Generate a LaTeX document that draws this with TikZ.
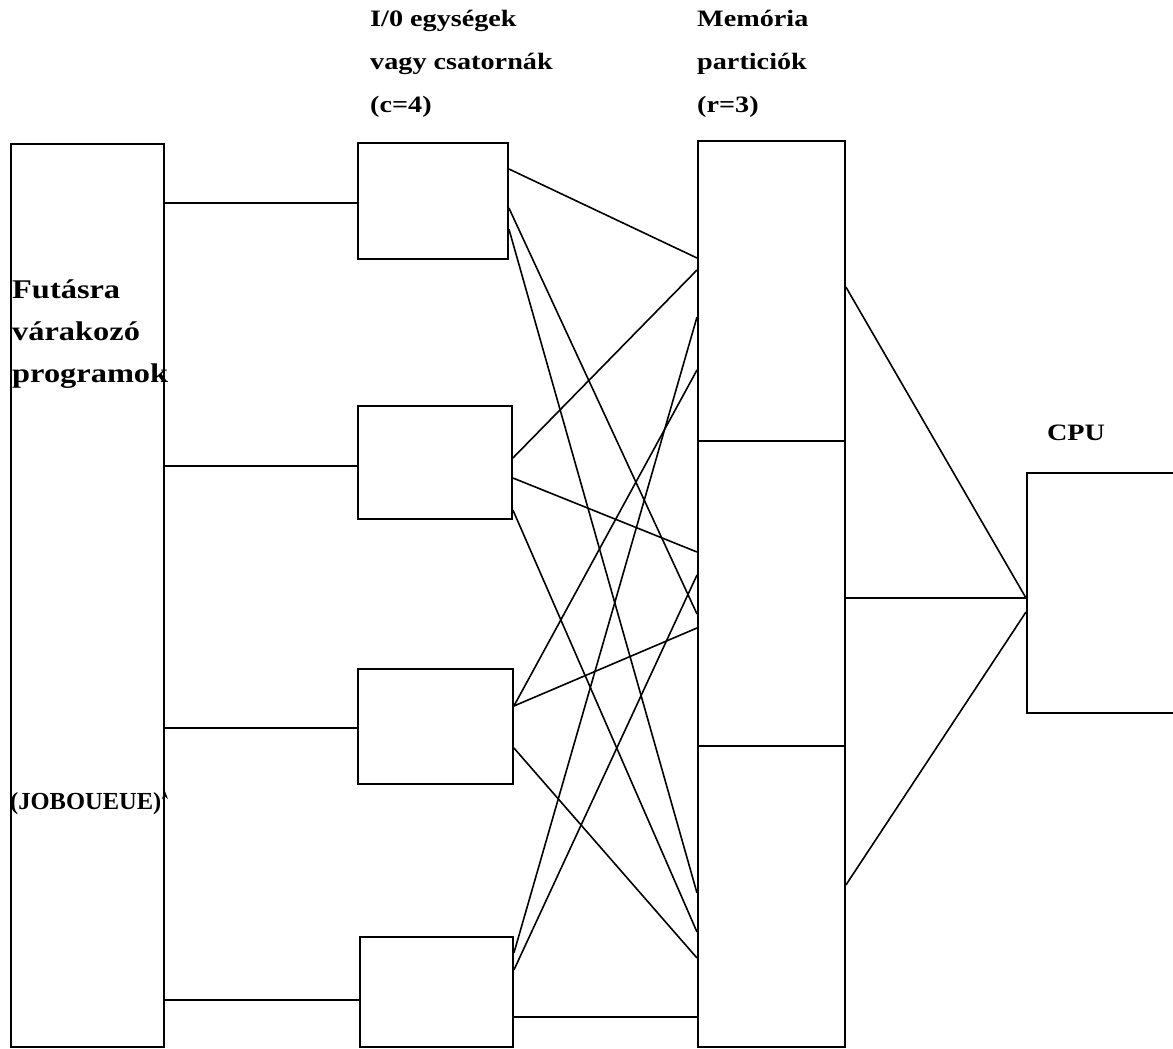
\documentclass[tikz,border=0pt]{standalone}
\usepackage{fontspec}
\usepackage{tikz}
\usetikzlibrary{arrows.meta}
\newfontfamily\labfont{Liberation Serif}[FakeStretch=1.2]
\newfontfamily\jobfont{Liberation Serif}
\tikzset{
  unit/.style={draw,rectangle,line width=1.9pt,inner sep=0pt,anchor=north west},
  link/.style={line width=1.6pt},
  lab/.style={font=\labfont\bfseries\fontsize{23.5}{43}\selectfont,align=left,inner sep=0pt},
  sidelab/.style={font=\labfont\bfseries\fontsize{27}{42}\selectfont,align=left,inner sep=0pt},
  joblab/.style={font=\jobfont\bfseries\fontsize{24.5}{30}\selectfont,inner sep=0pt},
}

\begin{document}
\begin{tikzpicture}[x=1pt,y=-1pt]
  \useasboundingbox (0,0) rectangle (1173,1049);
  \clip (0,0) rectangle (1173,1049);
  \node[unit,minimum width=153pt,minimum height=903pt] (queue) at (10,143) {};
  \node[unit,minimum width=150pt,minimum height=116pt] (io1) at (357,142) {};
  \node[unit,minimum width=154pt,minimum height=113pt] (io2) at (357,405) {};
  \node[unit,minimum width=155pt,minimum height=115pt] (io3) at (357,668) {};
  \node[unit,minimum width=153pt,minimum height=110pt] (io4) at (359,936) {};
  \node[unit,minimum width=147pt,minimum height=300pt] (mem1) at (697,140) {};
  \node[unit,minimum width=147pt,minimum height=305pt] (mem2) at (697,440) {};
  \node[unit,minimum width=147pt,minimum height=301pt] (mem3) at (697,745) {};
  \node[unit,minimum width=170pt,minimum height=240pt] (cpu) at (1026,472) {};
  \node[lab,anchor=north west] (iolab) at (370,10) {I/0 egységek\\vagy csatornák\\(c=4)};
  \node[lab,anchor=north west] (memlab) at (697,10) {Memória\\particiók\\(r=3)};
  \node[sidelab,anchor=north west] (waitlab) at (12,280) {Futásra\\várakozó\\programok};
  \node[joblab,anchor=base west] (jobq) at (10,809) {(JOBOUEUE)};
  \node[lab,anchor=base] (cpulab) at (1076,440) {CPU};
  \draw[link] (queue.east |- 0,203) -- (io1.west |- 0,203);
  \draw[link] (queue.east |- 0,466) -- (io2.west |- 0,466);
  \draw[link] (queue.east |- 0,728) -- (io3.west |- 0,728);
  \draw[link] (queue.east |- 0,1000) -- (io4.west |- 0,1000);
  \draw[-{Stealth[length=8pt,width=6pt]},line width=1pt] (queue.east |- 0,803) -- (queue.east |- 0,791);
  \draw[link] (io1.east |- 0,169) -- (mem1.west |- 0,258);
  \draw[link] (io1.east |- 0,208) -- (mem2.west |- 0,614);
  \draw[link] (io1.east |- 0,229) -- (mem3.west |- 0,893);
  \draw[link] (io2.east |- 0,458) -- (mem1.west |- 0,270);
  \draw[link] (io2.east |- 0,478) -- (mem2.west |- 0,552);
  \draw[link] (io2.east |- 0,510) -- (mem3.west |- 0,932);
  \draw[link] (io3.east |- 0,706) -- (mem1.west |- 0,370);
  \draw[link] (io3.east |- 0,706) -- (mem2.west |- 0,628);
  \draw[link] (io3.east |- 0,748) -- (mem3.west |- 0,958);
  \draw[link] (io4.east |- 0,953) -- (mem1.west |- 0,317);
  \draw[link] (io4.east |- 0,970) -- (mem2.west |- 0,575);
  \draw[link] (io4.east |- 0,1017) -- (mem3.west |- 0,1017);
  \draw[link] (mem1.east |- 0,287) -- (cpu.west |- 0,598);
  \draw[link] (mem2.east |- 0,598) -- (cpu.west |- 0,598);
  \draw[link] (mem3.east |- 0,885) -- (cpu.west |- 0,612);
\end{tikzpicture}
\end{document}
